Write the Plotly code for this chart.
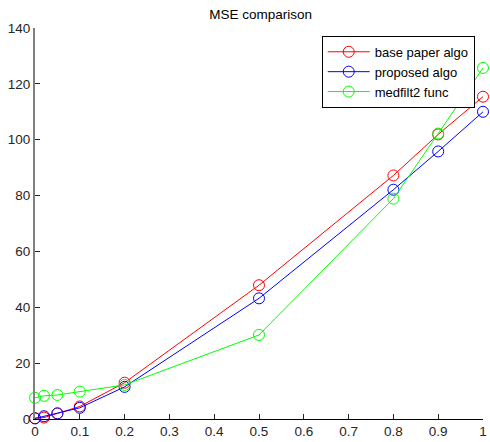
import plotly.graph_objects as go

x_vals = [0, 0.02, 0.05, 0.1, 0.2, 0.5, 0.8, 0.9, 1.0]
base_paper = [0.3, 0.5, 2.0, 4.5, 13.0, 47.9, 87.2, 101.9, 115.4]
proposed = [0.2, 1.0, 2.0, 4.0, 11.5, 43.2, 82.1, 95.8, 110.0]
medfilt2 = [7.6, 8.3, 8.6, 9.8, 12.2, 30.1, 78.9, 102.2, 125.7]
names = ["base paper algo", "proposed algo", "medfilt2 func"]
colors = ["#ff0000", "#0000ff", "#00ff00"]
x_ticks = [0, 0.1, 0.2, 0.3, 0.4, 0.5, 0.6, 0.7, 0.8, 0.9, 1]
x_tick_text = ["0", "0.1", "0.2", "0.3", "0.4", "0.5", "0.6", "0.7", "0.8", "0.9", "1"]
y_ticks = [0, 20, 40, 60, 80, 100, 120, 140]

fig = go.Figure()
for name, ys, c in zip(names, [base_paper, proposed, medfilt2], colors):
    fig.add_trace(go.Scatter(
        x=x_vals, y=ys, name=name, mode="lines+markers",
        line=dict(color=c, width=1),
        marker=dict(symbol="circle-open", size=11, color=c, line=dict(width=1, color=c)),
        cliponaxis=False,
    ))

fig.update_layout(
    width=490, height=442,
    margin=dict(l=35, r=3, t=28, b=22),
    paper_bgcolor="white", plot_bgcolor="white",
    font=dict(family="Arial, Liberation Sans, sans-serif", size=13, color="#262626"),
    title=dict(text="MSE comparison", x=0.532, xanchor="center", y=0.968, yanchor="middle",
               font=dict(size=13.5, color="#000000")),
    showlegend=True,
    legend=dict(x=0.64, y=0.98, xanchor="left", yanchor="top",
                bgcolor="white", bordercolor="black", borderwidth=1,
                font=dict(size=13, color="#000000"), itemwidth=42, tracegroupgap=0),
    xaxis=dict(range=[0, 1], tickvals=x_ticks, ticktext=x_tick_text,
               ticks="inside", ticklen=5, tickcolor="#262626",
               showline=True, linecolor="#000000", linewidth=1,
               showgrid=False, zeroline=False, tickfont=dict(size=13.5),
               ticklabeloverflow="allow"),
    yaxis=dict(range=[0, 140], tickvals=y_ticks,
               ticks="inside", ticklen=5, tickcolor="#262626",
               showline=True, linecolor="#808080", linewidth=2,
               showgrid=False, zeroline=False, tickfont=dict(size=13.5)),
)

fig.write_html("out.html", config={"displayModeBar": False},
               post_script="document.body.style.margin='0px';document.body.style.padding='0px';")
